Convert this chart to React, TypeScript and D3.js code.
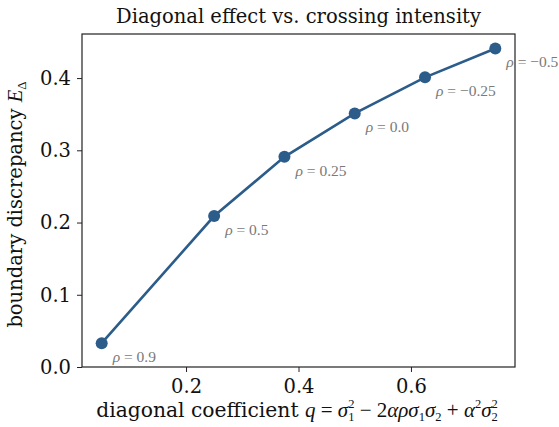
import { useRef, useEffect } from 'react';
import * as d3 from 'd3';

const qValues = [0.05, 0.25, 0.375, 0.5, 0.625, 0.75];
const eDelta = [0.033, 0.209, 0.291, 0.351, 0.401, 0.441];
const rhoLabels = ['0.9', '0.5', '0.25', '0.0', '\u22120.25', '\u22120.5'];
const xTicks = [0.2, 0.4, 0.6];
const yTicks = [0.0, 0.1, 0.2, 0.3, 0.4];

const W = 559;
const H = 427;
const margin = { left: 82, right: 44, top: 34, bottom: 60 };
const colour = '#2b5c8a';
const serif = '"DejaVu Serif", serif';
const mathFont = '"Liberation Serif", serif';

export default function App() {
  const svgRef = useRef<SVGSVGElement>(null);

  useEffect(() => {
    if (!svgRef.current) return;
    const svg = d3.select(svgRef.current);
    svg.selectAll('*').remove();

    const x = d3.scaleLinear().domain([0.015, 0.785]).range([margin.left, W - margin.right]);
    const y = d3.scaleLinear().domain([0, 0.461]).range([H - margin.bottom, margin.top]);

    const pts = qValues.map((q, i) => [q, eDelta[i]] as [number, number]);

    const line = d3.line<[number, number]>()
      .x(d => x(d[0]))
      .y(d => y(d[1]));

    svg.append('path')
      .datum(pts)
      .attr('fill', 'none')
      .attr('stroke', colour)
      .attr('stroke-width', 2.6)
      .attr('d', line);

    svg.append('g')
      .selectAll('circle')
      .data(pts)
      .join('circle')
      .attr('cx', d => x(d[0]))
      .attr('cy', d => y(d[1]))
      .attr('r', 6)
      .attr('fill', colour);

    const ann = svg.append('g')
      .attr('font-family', mathFont)
      .attr('font-size', 15.5)
      .attr('fill', '#7a7a7a');
    pts.forEach((d, i) => {
      const t = ann.append('text')
        .attr('x', x(d[0]) + 11)
        .attr('y', y(d[1]) + 19);
      t.append('tspan').attr('font-style', 'italic').text('\u03C1');
      t.append('tspan').text(' = ' + rhoLabels[i]);
    });

    // frame
    svg.append('rect')
      .attr('x', margin.left)
      .attr('y', margin.top)
      .attr('width', W - margin.left - margin.right)
      .attr('height', H - margin.top - margin.bottom)
      .attr('fill', 'none')
      .attr('stroke', '#222')
      .attr('stroke-width', 1.2);

    const xAxis = svg.append('g')
      .attr('transform', `translate(0,${H - margin.bottom})`)
      .call(d3.axisBottom(x).tickValues(xTicks).tickFormat(d3.format('.1f')).tickSize(5).tickPadding(7));
    const yAxis = svg.append('g')
      .attr('transform', `translate(${margin.left},0)`)
      .call(d3.axisLeft(y).tickValues(yTicks).tickFormat(d3.format('.1f')).tickSize(5).tickPadding(6));
    [xAxis, yAxis].forEach(a => {
      a.select('.domain').remove();
      a.selectAll('line').attr('stroke', '#222').attr('stroke-width', 1);
      a.selectAll('text').attr('font-family', serif).attr('font-size', 19.5).attr('fill', '#111');
    });

    svg.append('text')
      .attr('x', (margin.left + W - margin.right) / 2)
      .attr('y', 23)
      .attr('text-anchor', 'middle')
      .attr('font-family', serif)
      .attr('font-size', 19.5)
      .attr('fill', '#111')
      .text('Diagonal effect vs. crossing intensity');

    // y label
    const yl = svg.append('text')
      .attr('transform', `translate(22,${(margin.top + H - margin.bottom) / 2 + 4}) rotate(-90)`)
      .attr('text-anchor', 'middle')
      .attr('font-family', serif)
      .attr('font-size', 19.5)
      .attr('fill', '#111');
    yl.append('tspan').text('boundary discrepancy ');
    yl.append('tspan').attr('font-family', mathFont).attr('font-style', 'italic').attr('font-size', 20.5).text('E');
    yl.append('tspan').attr('font-family', mathFont).attr('font-size', 13).attr('dy', 4).text('\u0394');

    // x label
    const xl = svg.append('text')
      .attr('x', 297)
      .attr('y', 417)
      .attr('text-anchor', 'middle')
      .attr('font-family', serif)
      .attr('font-size', 20.3)
      .attr('fill', '#111');
    xl.append('tspan').text('diagonal coefficient ');
    const m = (s: string, dy = 0, italic = true) => xl.append('tspan')
      .attr('font-family', mathFont).attr('font-size', 21)
      .attr('font-style', italic ? 'italic' : 'normal').attr('dy', dy).text(s);
    const small = (s: string, dy: number, dx = 0) => xl.append('tspan')
      .attr('font-family', mathFont).attr('font-size', 12.5).attr('dx', dx).attr('dy', dy).text(s);
    m('q');
    m(' = ', 0, false);
    m('\u03C3');
    small('2', -9);
    small('1', 13, -6.3);
    m(' \u2212 2', -4, false);
    m('\u03B1\u03C1\u03C3');
    small('1', 4);
    m('\u03C3', -4);
    small('2', 4);
    m(' + ', -4, false);
    m('\u03B1');
    small('2', -9);
    m('\u03C3', 9);
    small('2', -9);
    small('2', 13, -6.3);
  }, []);

  return (
    <svg
      ref={svgRef}
      width={W}
      height={H}
      style={{ position: 'absolute', left: 0, top: 0, background: '#fff' }}
    />
  );
}
